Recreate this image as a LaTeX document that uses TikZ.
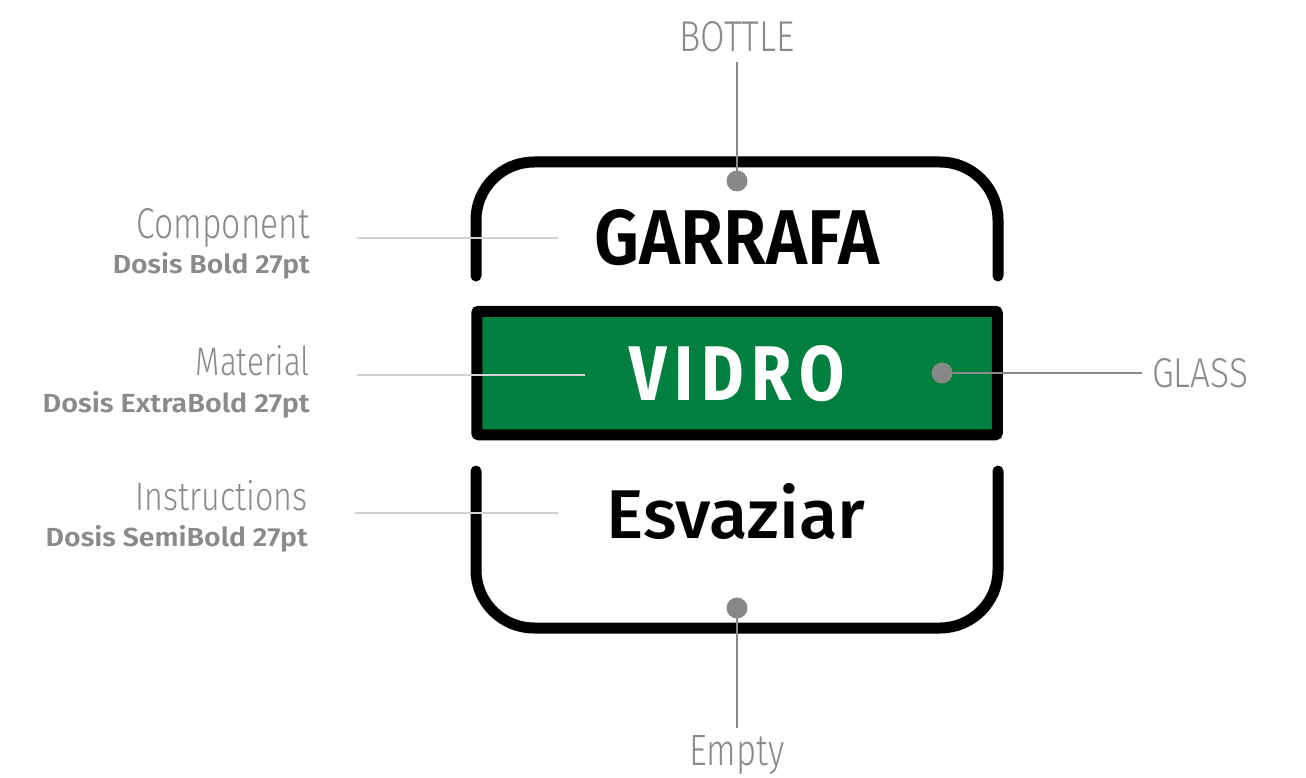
\documentclass[tikz,border=0pt]{standalone}
\usepackage{fontspec}
\usepackage{graphicx}
\setmainfont{Fira Sans}
\newfontfamily\lightfont{Fira Sans Light}
\newfontfamily\mediumfont{Fira Sans Medium}
\newfontfamily\semifont{Fira Sans SemiBold}
\definecolor{txtgray}{HTML}{8A8A8A}
\definecolor{leadgray}{HTML}{888888}
\definecolor{pale}{HTML}{D2D2D2}
\definecolor{glassgreen}{HTML}{00803F}
\newcommand{\fitbox}[3]{\resizebox{#1pt}{#2pt}{#3}}
\begin{document}
\begin{tikzpicture}[x=1pt,y=-1pt,
  frame/.style={line width=11pt, line cap=round, line join=round, rounded corners=58pt},
  lead/.style={draw=leadgray, line width=2.5pt},
  paleline/.style={draw=pale, line width=2.2pt},
  dot/.style={circle, fill=leadgray, inner sep=0pt, minimum size=21pt},
  lbl/.style={inner sep=0pt, text=txtgray}]
\useasboundingbox (0,0) rectangle (1306,778);
% brackets
\draw[frame] (476,276) -- (476,162) -- (998,162) -- (998,276);
\draw[frame] (476,471) -- (476,628) -- (998,628) -- (998,471);
% green box
\node[draw=black, line width=11pt, fill=glassgreen, rounded corners=2pt, minimum width=520.5pt, minimum height=123.5pt, inner sep=0pt] (box) at (737,373) {};
% left pale leader lines
\coordinate (c1a) at (357,238); \coordinate (c1b) at (558,238);
\coordinate (c2a) at (357,375); \coordinate (c2b) at (585,375);
\coordinate (c3a) at (355,513); \coordinate (c3b) at (558,513);
\draw[paleline] (c1a) -- (c1b);
\draw[paleline] (c2a) -- (c2b);
\draw[paleline] (c3a) -- (c3b);
% main texts
\node[anchor=base west, inner sep=0pt] (garrafa) at (594,265) {\fitbox{285}{55}{\semifont GARRAFA}};
\node[anchor=base west, inner sep=0pt, text=white] (vidro) at (629,400) {\fitbox{216}{55}{\bfseries V\kern0.12em I\kern0.12em D\kern0.12em R\kern0.12em O}};
\node[anchor=base west, inner sep=0pt] (esvaziar) at (606,538) {\fitbox{259}{55}{\mediumfont Esvaziar}};
% left labels
\node[lbl, anchor=base east] (comp) at (310,238) {\fitbox{173}{30}{\lightfont Component}};
\node[lbl, anchor=base east] (compf) at (310,273) {\fitbox{197}{21}{\semifont Dosis Bold 27pt}};
\node[lbl, anchor=base east] (mat) at (310,375) {\fitbox{114}{30}{\lightfont Material}};
\node[lbl, anchor=base east] (matf) at (310,412) {\fitbox{267}{21}{\semifont Dosis ExtraBold 27pt}};
\node[lbl, anchor=base east] (ins) at (308,510) {\fitbox{172}{30}{\lightfont Instructions}};
\node[lbl, anchor=base east] (insf) at (308,546) {\fitbox{262}{21}{\semifont Dosis SemiBold 27pt}};
% right / top / bottom labels
\node[lbl, anchor=base] (bottle) at (737,52) {\fitbox{115}{30}{\lightfont BOTTLE}};
\node[lbl, anchor=base west] (glass) at (1152,387) {\fitbox{96}{29}{\lightfont GLASS}};
\node[lbl, anchor=base] (empty) at (737,765) {\fitbox{95}{30}{\lightfont Empty}};
% dots and leaders
\node[dot] (dtop) at (737,181) {};
\node[dot] (dmid) at (942,373) {};
\node[dot] (dbot) at (737,608) {};
\coordinate (ltop) at (737,62);
\coordinate (lmid) at (1142,373);
\coordinate (lbot) at (737,728);
\draw[lead] (ltop) -- (dtop.center);
\draw[lead] (dmid.center) -- (lmid);
\draw[lead] (dbot.center) -- (lbot);
\end{tikzpicture}
\end{document}
